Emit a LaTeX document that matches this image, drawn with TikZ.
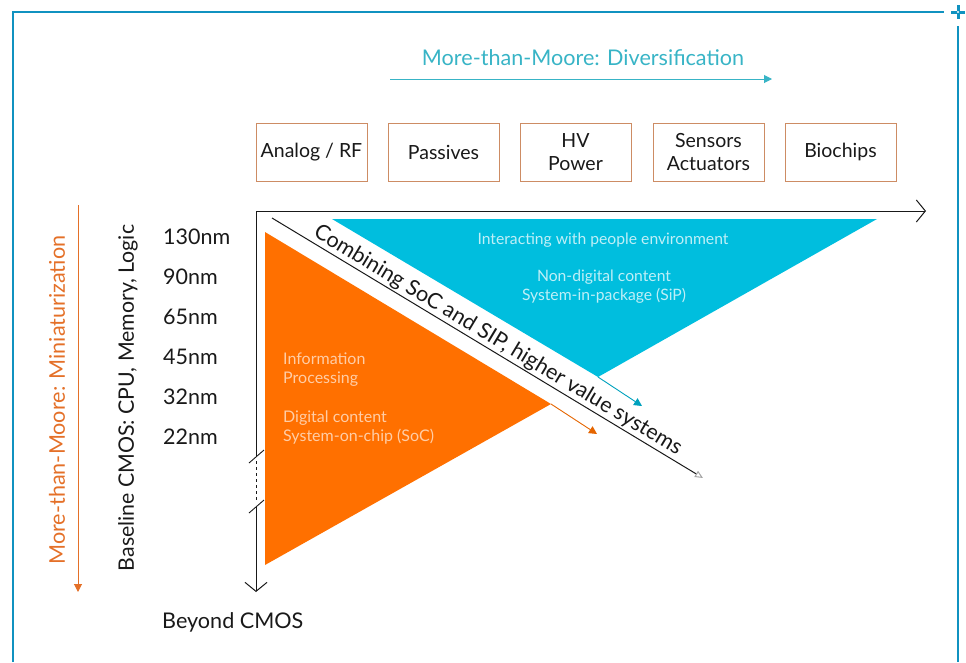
\documentclass[tikz,border=0pt]{standalone}
\usepackage{fontspec}
\setmainfont{Lato}
\usetikzlibrary{arrows.meta}

\definecolor{frameBlue}{RGB}{16,146,192}
\definecolor{diverseTeal}{RGB}{56,180,198}
\definecolor{miniOrange}{RGB}{228,112,40}
\definecolor{socOrange}{RGB}{255,112,0}
\definecolor{sipCyan}{RGB}{0,190,222}
\definecolor{boxEdge}{RGB}{205,140,100}
\definecolor{ink}{RGB}{25,25,25}

\begin{document}
\begin{tikzpicture}
[x=1pt,y=-1pt,
  boxDecorate/.style={draw=boxEdge,line width=1pt,minimum width=111pt,
    minimum height=58pt,align=center,inner sep=0pt,text=ink,
    font=\fontsize{19.5}{23}\selectfont},%
  nmDecorate/.style={anchor=west,inner sep=0pt,text=ink,
    font=\fontsize{21.5}{24}\selectfont},%
  axisDecorate/.style={draw=ink,line width=1pt},%
  openTip/.style={-{Straight Barb[length=9pt,width=22pt,line width=1pt]}},%
  fillTip/.style={-{Triangle[length=8pt,width=8pt]}},%
  innerText/.style={anchor=west,align=left,inner sep=0pt,
    font=\fontsize{16}{19}\selectfont}]
\useasboundingbox (0,0) rectangle (966,662);

%% frame
\draw[frameBlue,line width=2.5pt] (13,662) -- (13,12) -- (944,12);
\draw[frameBlue,line width=2.5pt] (958,26) -- (958,662);
\draw[frameBlue,line width=3pt] (951,12) -- (965,12) (958,5) -- (958,19);
\fill[white] (958,12) circle (1.2pt);

%% diversification
\node (diverse) at (583,58) [text=diverseTeal,font=\fontsize{21.6}{24}\selectfont]
  {More-than-Moore: Diversification};
\coordinate (dvStart) at (390,79);
\coordinate (dvEnd) at (772,79);
\draw[diverseTeal,line width=1pt,fillTip] (dvStart) -- (dvEnd);

%% boxes
\foreach \boxname/\x/\boxtext in {
  analog/311.5/{Analog / RF}, passives/443.5/Passives, hvpower/575.5/{HV\\Power},
  sensors/708.5/{Sensors\\Actuators}, biochips/840.5/Biochips}
{
  \node (\boxname) at (\x,152) [boxDecorate] {\boxtext};
}

%% triangles
\coordinate (socTop) at (265,232);
\coordinate (socBottom) at (265,565);
\coordinate (socTip) at (551,404);
\fill[socOrange] (socTop) -- (socBottom) -- (socTip) -- cycle;
\coordinate (sipLeft) at (332,219);
\coordinate (sipRight) at (877,219);
\coordinate (sipTip) at (598,377);
\fill[sipCyan] (sipLeft) -- (sipRight) -- (sipTip) -- cycle;

\node (interact) at (603,240) [text=white!75!sipCyan,font=\fontsize{15.7}{19}\selectfont]
  {Interacting with people environment};
\node (nondigital) at (604,287) [text=white!75!sipCyan,align=center,
  font=\fontsize{15.7}{19}\selectfont] {Non-digital content\\System-in-package (SiP)};
\node (infoproc) at (283,370) [innerText,text=white!65!socOrange]
  {Information\\Processing};
\node (digital) at (283,427) [innerText,text=white!65!socOrange]
  {Digital content\\System-on-chip (SoC)};

\coordinate (sipArrow) at (642,406);
\coordinate (socArrow) at (597,434);
\draw[sipCyan!85!black,line width=0.9pt,fillTip] (sipTip) -- (sipArrow);
\draw[socOrange!90!black,line width=0.9pt,fillTip] (socTip) -- (socArrow);

%% combining line
\coordinate (cbStart) at (272,218);
\coordinate (cbEnd) at (703,478);
\draw[ink,line width=1pt,-{Triangle[open,length=8pt,width=7pt,color=black!35]}]
  (cbStart) -- node[sloped,above,pos=0.51,inner sep=1.2pt,text=ink,
  font=\fontsize{21.5}{24}\selectfont] {Combining SoC and SIP, higher value systems}
  (cbEnd);

%% axes
\coordinate (origin) at (256,211);
\coordinate (xEnd) at (926,211);
\coordinate (breakA) at (256,456);
\coordinate (breakB) at (256,506);
\coordinate (yEnd) at (256,592);
\draw[axisDecorate,openTip] (origin) -- (xEnd);
\draw[axisDecorate] (origin) -- (breakA);
\draw[axisDecorate,dashed,line width=0.8pt] (256,461) -- (256,501);
\draw[axisDecorate,openTip] (breakB) -- (yEnd);
\draw[ink,line width=0.9pt] (249,463) -- (264,450) (249,513) -- (264,500);

%% node labels
\foreach \nodename/\y in {130/237, 90/277, 65/317, 45/357, 32/397, 22/437}
{
  \node (nm\nodename) at (163,\y) [nmDecorate] {\nodename nm};
}
\node (baseline) at (128,398) [rotate=90,text=ink,font=\fontsize{21.3}{24}\selectfont]
  {Baseline CMOS: CPU, Memory, Logic};
\node (mini) at (57,400) [rotate=90,text=miniOrange,font=\fontsize{21.6}{24}\selectfont]
  {More-than-Moore: Miniaturization};
\coordinate (miniStart) at (78,205);
\coordinate (miniEnd) at (78,592);
\draw[miniOrange,line width=1pt,fillTip] (miniStart) -- (miniEnd);
\node (beyond) at (162,622) [anchor=west,inner sep=0pt,text=ink,
  font=\fontsize{21.6}{24}\selectfont] {Beyond CMOS};
\end{tikzpicture}
\end{document}
